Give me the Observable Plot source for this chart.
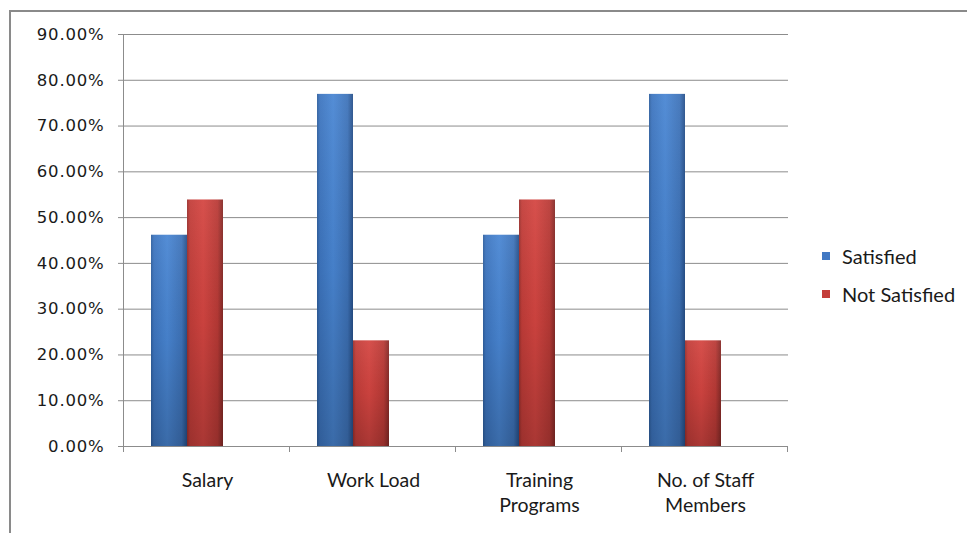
<!DOCTYPE html>
<html>
<head>
<meta charset="utf-8">
<script src="https://cdn.jsdelivr.net/npm/d3@7"></script>
<script src="https://cdn.jsdelivr.net/npm/@observablehq/plot@0.6"></script>
<style>
  html, body { margin: 0; padding: 0; background: #fff; }
  #wrap { position: relative; width: 967px; height: 533px; overflow: hidden; }
  #border { position: absolute; left: 9px; top: 10px; width: 1000px; height: 600px; border: 2px solid #8a8a8a; box-sizing: border-box; }
  #chart { position: absolute; left: 0; top: 0; }
  #legend { position: absolute; left: 822px; top: 242px; font-family: Lato, "Open Sans", sans-serif; font-size: 20px; color: #1a1a1a; }
  #legend .item { display: flex; align-items: center; height: 28px; margin-bottom: 10px; }
  #legend .sw { width: 8px; height: 8px; margin-right: 12px; }
</style>
</head>
<body>
<div id="wrap">
  <div id="border"></div>
  <div id="chart"></div>
  <div id="legend"></div>
</div>
<script>
const categories = ["Salary", "Work Load", "Training Programs", "No. of Staff Members"];
const categoryLabels = ["Salary", "Work Load", "Training\nPrograms", "No. of Staff\nMembers"];
const seriesNames = ["Satisfied", "Not Satisfied"];
const satisfied = [0.4615, 0.7692, 0.4615, 0.7692];
const notSatisfied = [0.5385, 0.2308, 0.5385, 0.2308];
const yTicks = [0, 0.1, 0.2, 0.3, 0.4, 0.5, 0.6, 0.7, 0.8, 0.9];

const rows = [];
categories.forEach((c, i) => {
  rows.push({cat: c, series: seriesNames[0], value: satisfied[i]});
  rows.push({cat: c, series: seriesNames[1], value: notSatisfied[i]});
});
const labelOf = new Map(categories.map((c, i) => [c, categoryLabels[i]]));

const plot = Plot.plot({
  width: 967,
  height: 533,
  marginLeft: 123,
  marginRight: 178,
  marginTop: 34,
  marginBottom: 87,
  style: {background: "transparent", color: "#1a1a1a", overflow: "visible", fontFamily: "Lato, 'Open Sans', sans-serif"},
  fx: {domain: categories, padding: 0, label: null},
  x: {domain: seriesNames, paddingInner: 0, paddingOuter: 1.25, align: 0.29, axis: null},
  y: {domain: [0, 0.9], label: null},
  marks: [
    Plot.gridY(yTicks, {stroke: "#8c8c8c", strokeOpacity: 1, strokeWidth: 1}),
    Plot.axisY(yTicks, {
      tickFormat: d3.format(".2%"), tickSize: 6, tickPadding: 14,
      stroke: "#8c8c8c", fontSize: 16.5, fontFamily: "DejaVu Sans",
      label: null, fill: "#1a1a1a"
    }),
    Plot.axisFx({
      anchor: "bottom", tickSize: 0, tickPadding: 23, label: null,
      tickFormat: d => labelOf.get(d), fontSize: 19.5,
      lineHeight: 1.27, fill: "#1a1a1a"
    }),
    Plot.barY(rows.filter(d => d.series === seriesNames[0]), {fx: "cat", x: "series", y: "value", fill: "url(#gBlue)", inset: 0}),
    Plot.barY(rows.filter(d => d.series === seriesNames[1]), {fx: "cat", x: "series", y: "value", fill: "url(#gRed)", inset: 0}),
    Plot.barY(rows, {fx: "cat", x: "series", y: "value", fill: "url(#gShade)", inset: 0}),
    Plot.ruleY([0], {stroke: "#8c8c8c", strokeWidth: 1})
  ]
});

const svg = d3.select(plot);
const defs = svg.insert("defs", ":first-child");
function grad(id, stops, vertical) {
  const g = defs.append("linearGradient").attr("id", id)
    .attr("x1", 0).attr("x2", vertical ? 0 : 1).attr("y1", 0).attr("y2", vertical ? 1 : 0);
  stops.forEach(([o, c, op]) => g.append("stop").attr("offset", o).attr("stop-color", c).attr("stop-opacity", op ?? 1));
}
grad("gBlue", [[0, "#2f5f9e"], [0.08, "#3d75bf"], [0.45, "#4986d3"], [0.85, "#3e73b9"], [1, "#27508a"]]);
grad("gRed", [[0, "#9a302d"], [0.08, "#c23d39"], [0.45, "#d44541"], [0.85, "#b93a36"], [1, "#852a27"]]);
grad("gShade", [[0, "#ffffff", 0.06], [0.5, "#000000", 0.05], [1, "#000000", 0.2]], true);

// y tick label font (Verdana-like)
svg.selectAll("[aria-label='y-axis tick label'] text, [aria-label='y-axis tick label']")
  .attr("font-family", "DejaVu Sans").attr("font-size", 16.5).style("letter-spacing", "0.8px");

// axis lines and category boundary ticks from the library's scales
const fx = plot.scale("fx");
const y = plot.scale("y");
const y0 = y.apply(0), yTop = y.apply(0.9);
const x0 = fx.range[0];
const g = svg.append("g").attr("stroke", "#8c8c8c").attr("stroke-width", 1);
g.append("line").attr("x1", x0 + 0.5).attr("x2", x0 + 0.5).attr("y1", yTop).attr("y2", y0 + 6);
for (let i = 0; i <= categories.length; i++) {
  const xb = Math.round(x0 + i * fx.step) + 0.5;
  g.append("line").attr("x1", xb).attr("x2", xb).attr("y1", y0).attr("y2", y0 + 6);
}

document.getElementById("chart").appendChild(plot);

const legendColors = ["#4178c3", "#c43e3a"];
const legend = d3.select("#legend");
seriesNames.forEach((s, i) => {
  const it = legend.append("div").attr("class", "item");
  it.append("div").attr("class", "sw").style("background", legendColors[i]);
  it.append("span").text(s);
});
</script>
</body>
</html>
